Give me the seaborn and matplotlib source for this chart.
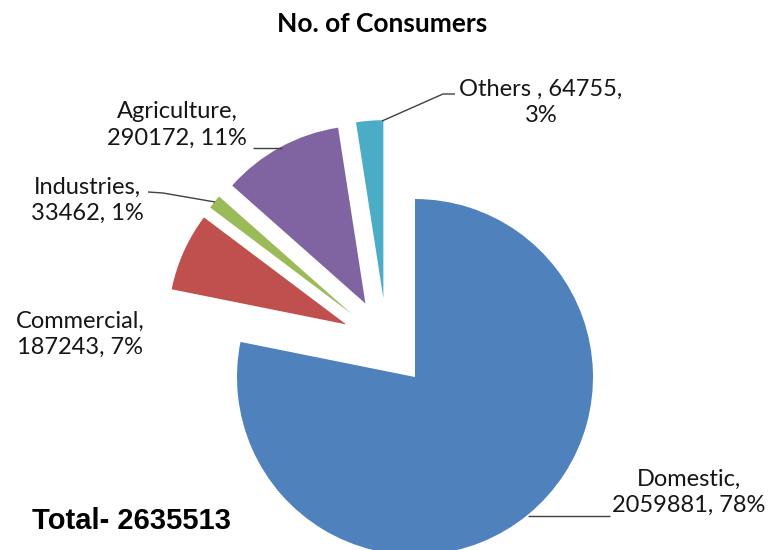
import matplotlib
matplotlib.use('Agg')
import matplotlib.pyplot as plt
import seaborn as sns

# ---- data ----
categories = ['Domestic', 'Commercial', 'Industries', 'Agriculture', 'Others ']
consumers = [2059881, 187243, 33462, 290172, 64755]
percent_labels = ['78%', '7%', '1%', '11%', '3%']
total_consumers = 2635513
title = 'No. of Consumers'

# ---- style ----
sns.set_theme(style='white')
plt.rcParams['font.family'] = ['Lato', 'DejaVu Sans']
colors = ['#4F81BD', '#C0504D', '#9BBB59', '#8064A2', '#4BACC6']

fig = plt.figure(figsize=(7.7, 5.5), dpi=100)
ax = fig.add_axes([0, 0, 1, 1])

CX, CY, R = 386.8, 342.6, 178.0  # pixel placement of the pie


def P(px, py):
    return ((px - CX) / R, (CY - py) / R)


wedges, _ = ax.pie(consumers, colors=colors, startangle=90, counterclock=False,
                   explode=[0.25] * len(consumers), radius=1,
                   wedgeprops=dict(linewidth=0))
x0, _ = P(0, 0)
x1, _ = P(770, 0)
_, y0 = P(0, 550)
_, y1 = P(0, 0)
ax.set_xlim(x0, x1)
ax.set_ylim(y0, y1)
ax.axis('off')

# ---- labels ----
label_pos = {
    'Domestic': (689, 492),
    'Commercial': (80, 334),
    'Industries': (87, 200),
    'Agriculture': (177, 125),
    'Others ': (541, 102),
}
for cat, val, pct in zip(categories, consumers, percent_labels):
    if cat.startswith('Others'):
        txt = f'{cat}, {val},\n{pct}'
    else:
        txt = f'{cat},\n{val}, {pct}'
    x, y = P(*label_pos[cat])
    ax.text(x, y, txt, ha='center', va='center', multialignment='center',
            fontsize=17, color='#161616', linespacing=1.3)

# ---- leader lines ----
leaders = [
    [(528, 516), (610, 516)],
    [(253, 148), (282, 148)],
    [(148, 192), (163, 193), (215, 202)],
    [(382, 121), (443, 94), (455, 94)],
]
for pts in leaders:
    xs, ys = zip(*[P(*p) for p in pts])
    ax.plot(xs, ys, color='#404040', lw=1.0, solid_capstyle='butt')

# ---- title & total ----
tx, ty = P(382, 24)
ax.text(tx, ty, title, ha='center', va='center', fontsize=19,
        fontweight='bold', color='black')
sx, sy = P(32, 521)
ax.text(sx, sy, f'Total- {total_consumers}', ha='left', va='center',
        fontsize=21, fontweight='bold', color='black',
        family=['Liberation Sans', 'DejaVu Sans'])

fig.savefig('out.png', dpi=100)
